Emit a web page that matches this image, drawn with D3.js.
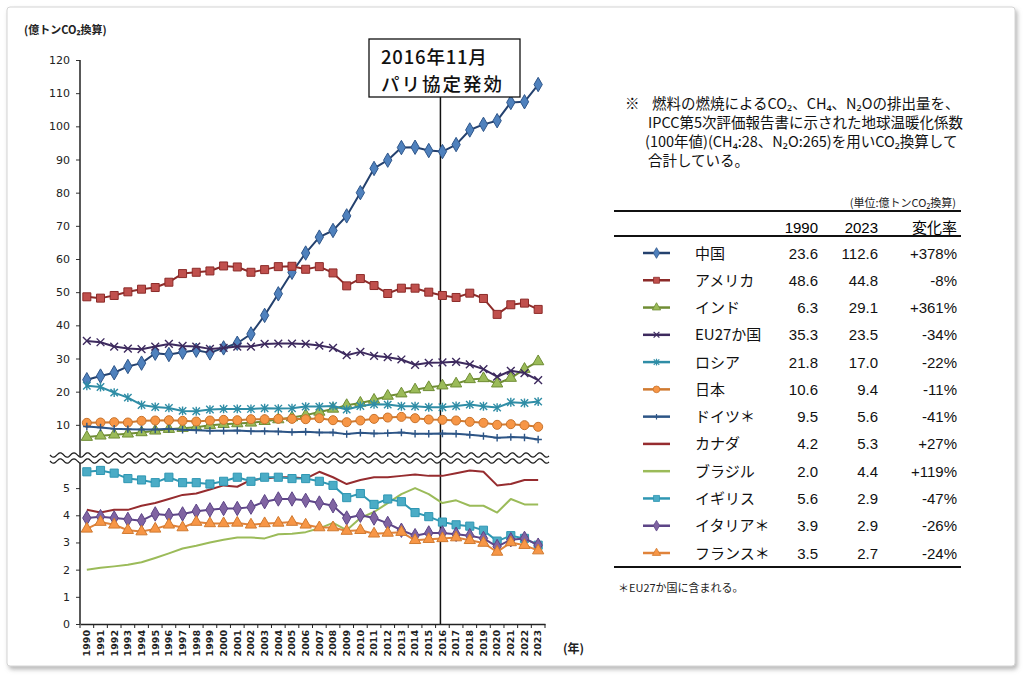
<!DOCTYPE html>
<html>
<head>
<meta charset="utf-8">
<script src="https://cdn.jsdelivr.net/npm/d3@7"></script>
<style>
  body { margin: 0; background: #fff; }
  svg { display: block; font-family: "Noto Sans CJK JP", "Noto Sans", sans-serif; }
</style>
</head>
<body>
<svg id="chart" width="1024" height="682"></svg>
<script>
// categories
const years = [1990,1991,1992,1993,1994,1995,1996,1997,1998,1999,2000,2001,2002,2003,2004,2005,2006,
               2007,2008,2009,2010,2011,2012,2013,2014,2015,2016,2017,2018,2019,2020,2021,2022,2023];

// upper panel series (億トンCO2換算)
const china   = [23.6,24.7,25.7,27.6,28.6,31.6,31.2,31.9,32.5,31.7,33.2,34.6,37.4,43.0,49.5,56.0,61.8,
                 66.6,68.6,73.0,80.0,87.3,89.8,93.6,93.7,92.7,92.4,94.5,98.9,100.6,101.7,107.2,107.4,112.6];
const usa     = [48.6,48.2,49.0,50.1,50.9,51.4,53.0,55.6,56.0,56.4,57.9,57.6,56.0,56.8,57.7,57.8,56.9,
                 57.7,55.8,51.9,54.1,52.0,49.6,51.2,51.2,50.0,49.0,48.4,49.7,48.1,43.3,46.2,46.7,44.8];
const india   = [6.3,6.7,7.0,7.3,7.7,8.2,8.7,9.0,9.3,9.9,10.2,10.4,10.6,11.1,11.6,12.2,12.9,
                 13.9,14.8,15.9,16.6,17.5,18.7,19.4,20.6,21.3,21.8,22.4,23.7,24.0,22.4,24.1,26.8,29.1];
const eu27    = [35.3,34.9,33.6,33.0,32.8,33.6,34.4,33.8,33.6,32.9,33.2,33.6,33.6,34.4,34.5,34.5,34.4,
                 33.9,33.2,31.0,32.0,30.8,30.4,29.7,28.1,28.7,28.8,29.0,28.2,26.8,24.5,26.3,25.6,23.5];
const russia  = [21.8,21.4,19.7,18.2,16.0,15.4,15.1,14.2,14.1,14.6,14.8,14.8,14.8,15.0,14.9,15.0,15.5,
                 15.5,15.7,14.6,15.7,16.2,16.1,15.6,15.6,15.3,15.3,15.7,16.1,15.6,15.2,16.8,16.6,17.0];
const japan   = [10.6,10.7,10.8,10.7,11.2,11.3,11.4,11.2,11.0,11.3,11.5,11.4,11.7,11.7,11.8,11.8,11.7,
                 12.0,11.4,10.8,11.3,11.8,12.2,12.4,12.0,11.6,11.5,11.3,10.9,10.6,10.0,10.2,9.9,9.4];
const germany = [9.5,9.2,8.8,8.7,8.6,8.6,8.8,8.5,8.4,8.2,8.2,8.3,8.1,8.1,8.0,7.8,7.9,
                 7.7,7.7,7.2,7.6,7.4,7.5,7.7,7.3,7.3,7.4,7.3,7.0,6.6,6.1,6.3,6.2,5.6];

// lower panel series
const canada  = [4.2,4.1,4.2,4.2,4.35,4.45,4.6,4.75,4.8,4.95,5.1,5.05,5.3,5.35,5.4,5.4,5.35,
                 5.6,5.4,5.15,5.3,5.4,5.4,5.45,5.5,5.45,5.45,5.55,5.65,5.6,5.1,5.15,5.3,5.3];
const brazil  = [2.0,2.07,2.12,2.18,2.27,2.43,2.6,2.78,2.88,3.0,3.1,3.18,3.18,3.15,3.3,3.32,3.38,
                 3.52,3.72,3.45,3.9,4.12,4.45,4.78,5.0,4.78,4.45,4.55,4.35,4.35,4.1,4.6,4.4,4.4];
const uk      = [5.6,5.65,5.55,5.35,5.3,5.2,5.4,5.2,5.2,5.15,5.25,5.4,5.25,5.4,5.4,5.35,5.35,
                 5.25,5.1,4.65,4.8,4.4,4.6,4.5,4.1,3.95,3.75,3.65,3.6,3.45,3.05,3.25,3.15,2.9];
const italy   = [3.9,3.95,3.9,3.85,3.8,4.05,4.0,4.05,4.15,4.2,4.25,4.25,4.3,4.5,4.6,4.6,4.55,
                 4.45,4.35,3.9,4.0,3.9,3.7,3.45,3.25,3.35,3.35,3.3,3.25,3.15,2.85,3.1,3.15,2.9];
const france  = [3.5,3.75,3.65,3.45,3.4,3.5,3.65,3.55,3.75,3.7,3.7,3.72,3.65,3.7,3.72,3.75,3.65,
                 3.55,3.55,3.42,3.45,3.32,3.35,3.38,3.08,3.12,3.15,3.18,3.08,2.98,2.65,3.0,2.9,2.7];

// tick values
const upperTicks = [10,20,30,40,50,60,70,80,90,100,110,120];
const lowerTicks = [0,1,2,3,4,5];

// table
const legendNames = ["中国","アメリカ","インド","EU27か国","ロシア","日本","ドイツ＊","カナダ","ブラジル","イギリス","イタリア＊","フランス＊"];
const v1990  = ["23.6","48.6","6.3","35.3","21.8","10.6","9.5","4.2","2.0","5.6","3.9","3.5"];
const v2023  = ["112.6","44.8","29.1","23.5","17.0","9.4","5.6","5.3","4.4","2.9","2.9","2.7"];
const change = ["+378%","-8%","+361%","-34%","-22%","-11%","-41%","+27%","+119%","-47%","-26%","-24%"];

// note lines
const noteLines = [
  "燃料の燃焼によるCO₂、CH₄、N₂Oの排出量を、",
  "IPCC第5次評価報告書に示された地球温暖化係数",
  "(100年値)(CH₄:28、N₂O:265)を用いCO₂換算して",
  "合計している。"
];

// thin stroked marker shapes (Excel x / * / +)
const xMark = { draw(c, s) { const r = Math.sqrt(s) / 2; c.moveTo(-r,-r); c.lineTo(r,r); c.moveTo(r,-r); c.lineTo(-r,r); } };
const starMark = { draw(c, s) { const r = Math.sqrt(s) / 2; c.moveTo(-r,-r); c.lineTo(r,r); c.moveTo(r,-r); c.lineTo(-r,r); c.moveTo(0,-r*1.2); c.lineTo(0,r*1.2); } };
const plusMark = { draw(c, s) { const r = Math.sqrt(s) / 2; c.moveTo(-r,0); c.lineTo(r,0); c.moveTo(0,-r); c.lineTo(0,r); } };

const series = [
  { values: china,   panel: "top", line: "#24416e", fill: "#4f81bd", stroke: "#2f568a", symbol: d3.symbolDiamond,  size: 60 },
  { values: usa,     panel: "top", line: "#8c2b29", fill: "#c0504d", stroke: "#8c2b29", symbol: d3.symbolSquare,   size: 64 },
  { values: india,   panel: "top", line: "#6f8d34", fill: "#9bbb59", stroke: "#6f8d34", symbol: d3.symbolTriangle, size: 55 },
  { values: eu27,    panel: "top", line: "#3d2a5e", fill: "none",    stroke: "#3d2a5e", symbol: xMark,            size: 60, thin: true },
  { values: russia,  panel: "top", line: "#2f8da6", fill: "none",    stroke: "#2f8da6", symbol: starMark,         size: 55, thin: true },
  { values: japan,   panel: "top", line: "#d07a30", fill: "#f79646", stroke: "#c8732c", symbol: d3.symbolCircle,   size: 64 },
  { values: germany, panel: "top", line: "#2d5586", fill: "none",    stroke: "#2d5586", symbol: plusMark,         size: 55, thin: true },
  { values: canada,  panel: "bot", line: "#962c2f", symbol: null },
  { values: brazil,  panel: "bot", line: "#9bbb59", symbol: null },
  { values: uk,      panel: "bot", line: "#2f97b3", fill: "#4bacc6", stroke: "#2f97b3", symbol: d3.symbolSquare,   size: 66 },
  { values: italy,   panel: "bot", line: "#5d4587", fill: "#8064a2", stroke: "#5d4587", symbol: d3.symbolDiamond,  size: 60 },
  { values: france,  panel: "bot", line: "#e0833a", fill: "#f79646", stroke: "#d07a30", symbol: d3.symbolTriangle, size: 55 }
];

const svg = d3.select("#chart");

// frame with soft shadow
const defs = svg.append("defs");
const f = defs.append("filter").attr("id", "shadow").attr("x", "-5%").attr("y", "-5%").attr("width", "110%").attr("height", "110%");
f.append("feDropShadow").attr("dx", 2).attr("dy", 3).attr("stdDeviation", 2).attr("flood-color", "#888").attr("flood-opacity", 0.6);
svg.append("rect").attr("x", 7).attr("y", 7).attr("width", 1008).attr("height", 659).attr("rx", 3)
  .attr("fill", "#fff").attr("stroke", "#d4d4d4").attr("filter", "url(#shadow)");

// scales
const x = d3.scaleBand().domain(years).range([80, 545]);
const xc = d => x(d) + x.bandwidth() / 2;
const yTop = d3.scaleLinear().domain([0, 120]).range([458, 60]);
const yBot = d3.scaleLinear().domain([0, 5.85]).range([624, 465]);

// axes
const axY1 = svg.append("g").attr("transform", "translate(80,0)")
  .call(d3.axisLeft(yTop).tickValues(upperTicks).tickFormat(d3.format("d")).tickSize(4).tickSizeOuter(0));
const axY2 = svg.append("g").attr("transform", "translate(80,0)")
  .call(d3.axisLeft(yBot).tickValues(lowerTicks).tickFormat(d3.format("d")).tickSize(4).tickSizeOuter(0));
[axY1, axY2].forEach(a => {
  a.select(".domain").remove();
  a.selectAll("text").attr("font-family", "DejaVu Sans").attr("font-size", 11).attr("fill", "#222").attr("x", -10);
  a.selectAll("line").attr("stroke", "#333");
});
svg.append("line").attr("x1", 80).attr("x2", 80).attr("y1", yTop(120)).attr("y2", 624)
  .attr("stroke", "#222").attr("stroke-width", 1.5);

const axX = svg.append("g").attr("transform", "translate(0,624)")
  .call(d3.axisBottom(x).tickSize(0));
axX.select(".domain").attr("stroke", "#222").attr("stroke-width", 1.5);
axX.selectAll("text")
  .attr("transform", "rotate(-90)")
  .attr("text-anchor", "end")
  .attr("x", -6).attr("y", 0).attr("dy", "0.35em")
  .attr("font-family", "DejaVu Sans").attr("font-weight", "bold").attr("font-size", 9.5).attr("fill", "#222");
svg.append("g").selectAll("line").data(years.concat(["end"])).join("line")
  .attr("x1", d => d === "end" ? x.range()[1] : x(d)).attr("x2", d => d === "end" ? x.range()[1] : x(d))
  .attr("y1", 624).attr("y2", 628).attr("stroke", "#222");

// axis titles
svg.append("text").attr("x", 24).attr("y", 34).attr("font-size", 11).attr("font-weight", "bold").attr("fill", "#222")
  .text("(億トンCO₂換算)");
svg.append("text").attr("x", 563).attr("y", 653).attr("font-size", 12).attr("font-weight", "bold").attr("fill", "#222").text("(年)");

// 2016 vertical line
svg.append("line").attr("x1", xc(2016) - 2).attr("x2", xc(2016) - 2).attr("y1", 97).attr("y2", 624)
  .attr("stroke", "#111").attr("stroke-width", 1.5);

// series
const plot = svg.append("g");
series.forEach(s => {
  const ys = s.panel === "top" ? yTop : yBot;
  const line = d3.line().x((d, i) => xc(years[i])).y(d => ys(d));
  plot.append("path").attr("d", line(s.values)).attr("fill", "none")
    .attr("stroke", s.line).attr("stroke-width", 2).attr("stroke-linejoin", "round");
  if (s.symbol) {
    plot.append("g").selectAll("path").data(s.values).join("path")
      .attr("transform", (d, i) => `translate(${xc(years[i])},${ys(d)})`)
      .attr("d", d3.symbol(s.symbol, s.size))
      .attr("fill", s.fill).attr("stroke", s.stroke).attr("stroke-width", s.thin ? 1.4 : 1);
  }
});

// axis break (wavy double line)
const waveTop = [], waveBot = [];
for (let px = 50; px <= 549; px += 1) {
  const off = 2.2 * Math.sin((px - 50) / 13.7 * 2 * Math.PI);
  waveTop.push([px, 455 + off]);
  waveBot.push([px, 461 + off]);
}
svg.append("path")
  .attr("d", d3.line()(waveTop.concat(waveBot.slice().reverse())) + "Z")
  .attr("fill", "#fff");
[waveTop, waveBot].forEach(w => svg.append("path").attr("d", d3.line()(w))
  .attr("fill", "none").attr("stroke", "#222").attr("stroke-width", 1.3));

// annotation box
svg.append("rect").attr("x", 369).attr("y", 39).attr("width", 151).attr("height", 58)
  .attr("fill", "#fff").attr("stroke", "#111").attr("stroke-width", 1.3);
svg.append("text").attr("x", 381).attr("y", 64).attr("font-size", 18.5).attr("font-weight", 500)
  .attr("letter-spacing", 0.8).attr("fill", "#111").text("2016年11月");
svg.append("text").attr("x", 381).attr("y", 91).attr("font-size", 18.5).attr("font-weight", 500)
  .attr("letter-spacing", 2).attr("fill", "#111").text("パリ協定発効");

// note text
const note = svg.append("g").attr("font-size", 14.5).attr("fill", "#111");
note.append("text").attr("x", 625).attr("y", 109).text("※");
note.selectAll("text.line").data(noteLines).join("text").attr("class", "line")
  .attr("x", (d, i) => i === 0 ? 652 : (i === 2 ? 645 : 648))
  .attr("y", (d, i) => 109 + i * 19)
  .text(d => d);

// unit label
svg.append("text").attr("x", 956).attr("y", 207).attr("text-anchor", "end").attr("font-size", 11).attr("fill", "#222")
  .text("(単位:億トンCO₂換算)");

// table lines
const tbl = svg.append("g");
[211, 236, 567].forEach(yy => tbl.append("line").attr("x1", 614).attr("x2", 961).attr("y1", yy).attr("y2", yy)
  .attr("stroke", "#111").attr("stroke-width", 1.8));

const num = "Liberation Sans, Arial, sans-serif";
tbl.append("text").attr("x", 818).attr("y", 233).attr("text-anchor", "end").attr("font-size", 15).attr("font-family", num).text("1990");
tbl.append("text").attr("x", 878).attr("y", 233).attr("text-anchor", "end").attr("font-size", 15).attr("font-family", num).text("2023");
tbl.append("text").attr("x", 957).attr("y", 233).attr("text-anchor", "end").attr("font-size", 15).text("変化率");

const rowY = d3.scaleLinear().domain([0, 11]).range([253, 553]);
const rows = tbl.selectAll("g.row").data(series).join("g").attr("class", "row")
  .attr("transform", (d, i) => `translate(0,${rowY(i)})`);
rows.append("line").attr("x1", 643).attr("x2", 670).attr("y1", 0).attr("y2", 0)
  .attr("stroke", d => d.line).attr("stroke-width", 2.5);
rows.filter(d => d.symbol).append("path")
  .attr("transform", "translate(656.5,0)")
  .attr("d", d => d3.symbol(d.symbol, d.size * 0.55)())
  .attr("fill", d => d.fill).attr("stroke", d => d.stroke).attr("stroke-width", d => d.thin ? 1.2 : 0.8);
rows.append("text").attr("x", 695).attr("y", 5.5).attr("font-size", 15).attr("fill", "#111")
  .text((d, i) => legendNames[i]);
rows.append("text").attr("x", 818).attr("y", 5.5).attr("text-anchor", "end").attr("font-size", 15).attr("font-family", num).attr("fill", "#111")
  .text((d, i) => v1990[i]);
rows.append("text").attr("x", 878).attr("y", 5.5).attr("text-anchor", "end").attr("font-size", 15).attr("font-family", num).attr("fill", "#111")
  .text((d, i) => v2023[i]);
rows.append("text").attr("x", 957).attr("y", 5.5).attr("text-anchor", "end").attr("font-size", 15).attr("font-family", num).attr("fill", "#111")
  .text((d, i) => change[i]);

svg.append("text").attr("x", 618).attr("y", 592).attr("font-size", 11).attr("fill", "#222").text("＊EU27か国に含まれる。");
</script>
</body>
</html>
